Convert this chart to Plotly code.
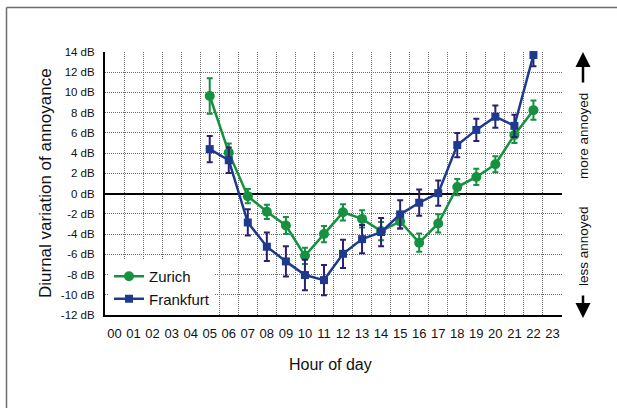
import plotly.graph_objects as go

# Hours of the day (category index 0..23) and their labels
hours = list(range(24))
hour_labels = [f"{h:02d}" for h in hours]

# Measured hours (05..22)
obs_hours = list(range(5, 23))

# Diurnal variation of annoyance [dB] with error-bar half-widths
zurich = [9.65, 4.05, -0.25, -1.8, -3.15, -6.15, -4.0, -1.85, -2.5, -3.7,
          -2.75, -4.85, -2.95, 0.65, 1.65, 2.9, 5.8, 8.25]
zurich_err = [1.75, 0.9, 0.7, 0.7, 0.85, 0.8, 0.8, 0.8, 0.85, 0.9,
              0.7, 0.9, 0.9, 0.8, 0.8, 0.8, 0.8, 0.95]

frankfurt = [4.4, 3.3, -2.85, -5.25, -6.7, -8.05, -8.55, -5.95, -4.5, -3.8,
             -2.05, -0.9, 0.05, 4.8, 6.3, 7.6, 6.7, 13.7]
frankfurt_err = [1.3, 1.25, 1.3, 1.4, 1.5, 1.5, 1.5, 1.4, 1.4, 1.4,
                 1.4, 1.3, 1.25, 1.2, 1.1, 1.1, 1.1, 1.1]

y_ticks = list(range(-12, 15, 2))
y_tick_labels = [f"{v} dB" for v in y_ticks]

GREEN = "#16913f"
BLUE = "#1e3a8e"
BLUE_ERR = "#2b1f72"
GRID = "#6a6a6a"
FONT = "Arial, Liberation Sans, sans-serif"

# Plot-area geometry in pixels (used to place decorations in paper units)
W, H = 617, 408
L, R, T, B = 105, 55, 52, 93
pw, ph = W - L - R, H - T - B


def px_x(px):
    return (px - L) / pw


def px_y(py):
    return (H - B - py) / ph


fig = go.Figure()

fig.add_trace(go.Scatter(
    x=obs_hours, y=zurich, name="Zurich", mode="lines+markers",
    line=dict(color=GREEN, width=2.5),
    marker=dict(symbol="circle", size=10, color=GREEN),
    error_y=dict(type="data", array=zurich_err, color=GREEN,
                 thickness=2, width=3),
    cliponaxis=False,
))

fig.add_trace(go.Scatter(
    x=obs_hours, y=frankfurt, name="Frankfurt", mode="lines+markers",
    line=dict(color=BLUE, width=2.5),
    marker=dict(symbol="square", size=8, color=BLUE),
    error_y=dict(type="data", array=frankfurt_err, color=BLUE_ERR,
                 thickness=2, width=3),
    cliponaxis=False,
))

fig.update_xaxes(
    range=[-0.5, 23.5], tickvals=hours, ticktext=hour_labels,
    showgrid=False, ticks="", showline=True, linecolor="black", linewidth=2,
    tickfont=dict(size=13, color="#111"), ticklabelstandoff=5,
    minor=dict(tickvals=[h + 0.5 for h in hours], showgrid=True,
               gridcolor=GRID, griddash="1px,1px", gridwidth=1, ticks=""),
    zeroline=False,
)

fig.update_yaxes(
    range=[-12, 14], tickvals=y_ticks, ticktext=y_tick_labels,
    showgrid=True, gridcolor=GRID, griddash="1px,1px", gridwidth=1,
    showline=True, linecolor="black", linewidth=2,
    zeroline=True, zerolinecolor="black", zerolinewidth=1.5,
    tickfont=dict(size=11.5, color="#111"), ticklabelstandoff=6,
)

fig.update_layout(
    width=W, height=H,
    margin=dict(l=L, r=R, t=T, b=B),
    paper_bgcolor="white", plot_bgcolor="white",
    font=dict(family=FONT, color="#111"),
    showlegend=True,
    legend=dict(x=px_x(109), y=px_y(260), xanchor="left", yanchor="top",
                bgcolor="white", font=dict(size=15), itemwidth=30,
                tracegroupgap=0),
    annotations=[
        dict(text="Diurnal variation of annoyance", xref="paper", yref="paper",
             x=px_x(45), y=px_y(183), textangle=-90, showarrow=False,
             font=dict(size=17), xanchor="center", yanchor="middle"),
        dict(text="Hour of day", xref="paper", yref="paper",
             x=px_x(330), y=px_y(364), showarrow=False,
             font=dict(size=16), xanchor="center", yanchor="middle"),
        dict(text="more annoyed", xref="paper", yref="paper",
             x=px_x(583), y=px_y(136), textangle=-90, showarrow=False,
             font=dict(size=13.5), xanchor="center", yanchor="middle"),
        dict(text="less annoyed", xref="paper", yref="paper",
             x=px_x(583), y=px_y(246), textangle=-90, showarrow=False,
             font=dict(size=13.5), xanchor="center", yanchor="middle"),
        # direction arrows beside the labels
        dict(xref="paper", yref="paper", x=px_x(583), y=px_y(52),
             ax=0, ay=32, axref="pixel", ayref="pixel",
             text="", showarrow=True, arrowhead=2, arrowsize=1.2,
             arrowwidth=2.5, arrowcolor="black"),
        dict(xref="paper", yref="paper", x=px_x(583), y=px_y(318),
             ax=0, ay=-24, axref="pixel", ayref="pixel",
             text="", showarrow=True, arrowhead=2, arrowsize=1.2,
             arrowwidth=2.5, arrowcolor="black"),
    ],
    shapes=[
        dict(type="line", xref="paper", yref="paper",
             x0=px_x(6.5), y0=px_y(420), x1=px_x(6.5), y1=px_y(7.5),
             line=dict(color="#6e6e6e", width=1.5)),
        dict(type="line", xref="paper", yref="paper",
             x0=px_x(6.5), y0=px_y(7.5), x1=px_x(630), y1=px_y(7.5),
             line=dict(color="#6e6e6e", width=1.5)),
    ],
)

fig.write_html("out.html")
